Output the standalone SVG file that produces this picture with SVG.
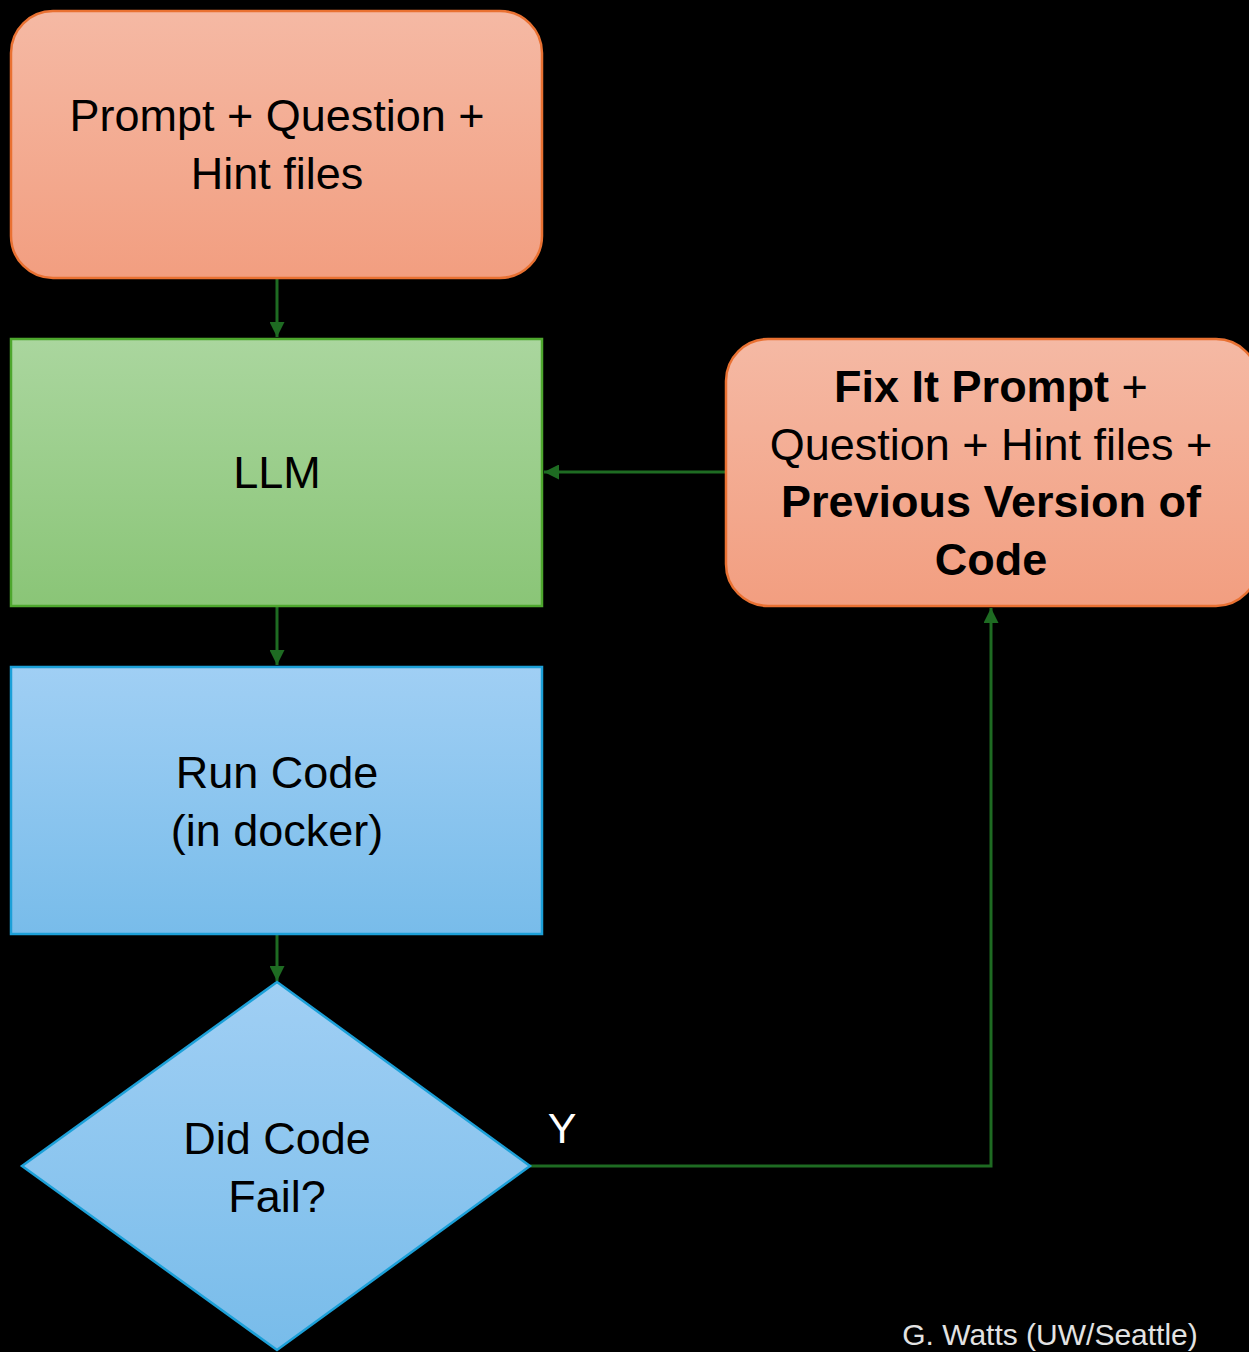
<svg xmlns="http://www.w3.org/2000/svg" width="1249" height="1352" viewBox="0 0 1249 1352">
<style>
  .lbl { font-family: "Liberation Sans", Arial, sans-serif; font-size: 45px; fill: #000; text-anchor: middle; }
  .b { font-weight: bold; }
  .conn { fill: none; stroke: #1E6B22; stroke-width: 3; }
  .orange { stroke: #E97132; stroke-width: 2.5; }
  .green { stroke: #4EA72E; stroke-width: 2.5; }
  .blue { stroke: #1CA0D8; stroke-width: 2.5; }
</style>
<defs>
  <linearGradient id="gO" x1="0" y1="0" x2="0" y2="1">
    <stop offset="0" stop-color="#F5B9A4"/>
    <stop offset="1" stop-color="#F29E80"/>
  </linearGradient>
  <linearGradient id="gG" x1="0" y1="0" x2="0" y2="1">
    <stop offset="0" stop-color="#AAD69E"/>
    <stop offset="1" stop-color="#8AC577"/>
  </linearGradient>
  <linearGradient id="gB" x1="0" y1="0" x2="0" y2="1">
    <stop offset="0" stop-color="#A0CFF4"/>
    <stop offset="1" stop-color="#78BCEA"/>
  </linearGradient>
  <marker id="arr" viewBox="0 0 10 10" refX="10" refY="5" markerWidth="5" markerHeight="5" orient="auto" markerUnits="strokeWidth">
    <path d="M0,0 L10,5 L0,10 z" fill="#1E6B22"/>
  </marker>
</defs>
<rect width="1249" height="1352" fill="#000"/>

<g id="connectors">
  <line class="conn" x1="277" y1="279" x2="277" y2="337" marker-end="url(#arr)"/>
  <line class="conn" x1="277" y1="607" x2="277" y2="665" marker-end="url(#arr)"/>
  <line class="conn" x1="277" y1="935" x2="277" y2="981" marker-end="url(#arr)"/>
  <line class="conn" x1="726" y1="472" x2="544" y2="472" marker-end="url(#arr)"/>
  <polyline class="conn" points="530,1166 991,1166 991,608" marker-end="url(#arr)"/>
</g>

<g id="node-prompt">
  <rect class="orange" x="11" y="11" width="531" height="267" rx="42" fill="url(#gO)"/>
  <text class="lbl" x="277" y="131">Prompt + Question +</text>
  <text class="lbl" x="277" y="189">Hint files</text>
</g>

<g id="node-llm">
  <rect class="green" x="11" y="339" width="531" height="267" fill="url(#gG)"/>
  <text class="lbl" x="277" y="488">LLM</text>
</g>

<g id="node-run">
  <rect class="blue" x="11" y="667" width="531" height="267" fill="url(#gB)"/>
  <text class="lbl" x="277" y="788">Run Code</text>
  <text class="lbl" x="277" y="846">(in docker)</text>
</g>

<g id="node-decision">
  <polygon class="blue" points="277,982 530,1166 277,1350 22,1166" fill="url(#gB)"/>
  <text class="lbl" x="277" y="1154">Did Code</text>
  <text class="lbl" x="277" y="1212">Fail?</text>
</g>

<g id="node-fixit">
  <rect class="orange" x="726" y="339" width="532" height="267" rx="42" fill="url(#gO)"/>
  <text class="lbl b" x="991" y="402" font-size="44">Fix It Prompt <tspan font-weight="normal">+</tspan></text>
  <text class="lbl" x="991" y="460">Question + Hint files +</text>
  <text class="lbl b" x="991" y="517" font-size="44">Previous Version of</text>
  <text class="lbl b" x="991" y="575" font-size="44">Code</text>
</g>

<g id="label-y">
  <text x="562" y="1143" font-family="Liberation Sans, Arial, sans-serif" font-size="43" fill="#fff" text-anchor="middle">Y</text>
</g>

<g id="credit">
  <text x="1050" y="1345" font-family="Liberation Sans, Arial, sans-serif" font-size="30" fill="#E2E2E2" text-anchor="middle">G. Watts (UW/Seattle)</text>
</g>
</svg>
